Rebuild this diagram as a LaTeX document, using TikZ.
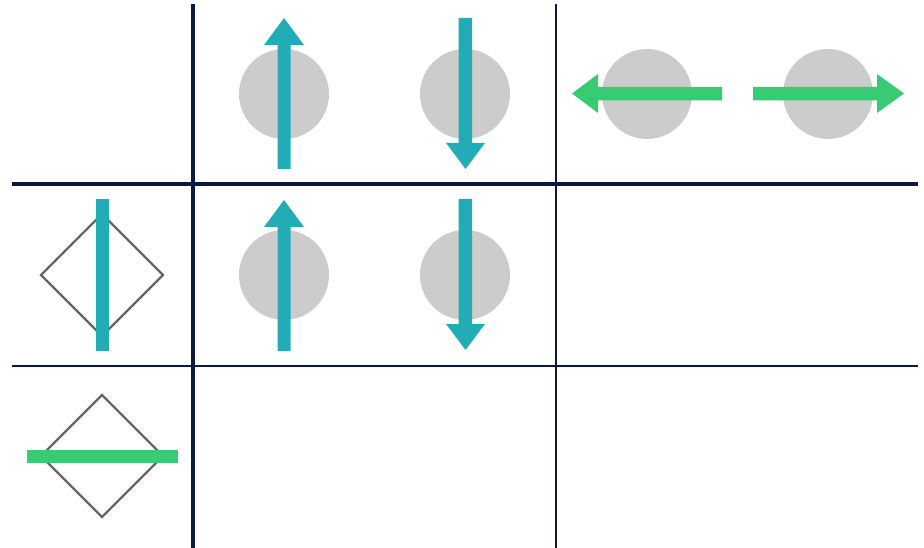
\documentclass[tikz,border=0pt]{standalone}
\usetikzlibrary{shapes.geometric}
\definecolor{navy}{HTML}{0B1842}
\definecolor{teal}{HTML}{22ADB6}
\definecolor{grn}{HTML}{38CB73}
\definecolor{ball}{HTML}{CCCCCC}
\definecolor{dgray}{HTML}{666666}
\begin{document}
\begin{tikzpicture}[x=1pt,y=-1pt,
  thickgrid/.style={navy,line width=3.2pt},
  thingrid/.style={navy,line width=1.5pt},
  ballnode/.style={circle,fill=ball,minimum size=90pt,inner sep=0pt,outer sep=0pt},
  diam/.style={draw=dgray,line width=2.4pt},
  tealfill/.style={fill=teal},
  grnfill/.style={fill=grn}]
\useasboundingbox (0,0) rectangle (924,548);
% grid
\coordinate (v1t) at (193,4); \coordinate (v1b) at (193,548);
\coordinate (v2t) at (556,4); \coordinate (v2b) at (556,548);
\coordinate (h1l) at (12,184); \coordinate (h1r) at (918,184);
\coordinate (h2l) at (12,366); \coordinate (h2r) at (918,366);
\draw[thingrid] (v2t) -- (v2b);
\draw[thingrid] (h2l) -- (h2r);
\draw[thickgrid] (v1t) -- (v1b);
\draw[thickgrid] (h1l) -- (h1r);
% balls
\node[ballnode] (b1) at (284,94) {};
\node[ballnode] (b2) at (465,94) {};
\node[ballnode] (b3) at (647,94) {};
\node[ballnode] (b4) at (828,94) {};
\node[ballnode] (b5) at (284,275) {};
\node[ballnode] (b6) at (465,275) {};
% diamonds
\draw[diam] (102,214) -- (163,275) -- (102,336) -- (41,275) -- cycle;
\draw[diam] (102,395) -- (163,456) -- (102,517) -- (41,456) -- cycle;
% teal arrows (up)
\fill[tealfill] (277.5,169) -- (277.5,45) -- (264,45) -- (284,18) -- (304,45) -- (290.5,45) -- (290.5,169) -- cycle;
\fill[tealfill] (277.5,351) -- (277.5,227) -- (264,227) -- (284,200) -- (304,227) -- (290.5,227) -- (290.5,351) -- cycle;
% teal arrows (down)
\fill[tealfill] (458.5,18) -- (458.5,143) -- (446,143) -- (465.5,169) -- (485,143) -- (472,143) -- (472,18) -- cycle;
\fill[tealfill] (458.5,199) -- (458.5,324) -- (446,324) -- (465.5,350) -- (485,324) -- (472,324) -- (472,199) -- cycle;
% teal bar
\fill[tealfill] (96,199) rectangle (109,351);
% green arrows
\fill[grnfill] (722,87) -- (598,87) -- (598,74) -- (572,93.5) -- (598,113) -- (598,100.5) -- (722,100.5) -- cycle;
\fill[grnfill] (753,87) -- (877,87) -- (877,74) -- (904,93.5) -- (877,113) -- (877,100.5) -- (753,100.5) -- cycle;
% green bar
\fill[grnfill] (27,450) rectangle (178,463);
\end{tikzpicture}
\end{document}
